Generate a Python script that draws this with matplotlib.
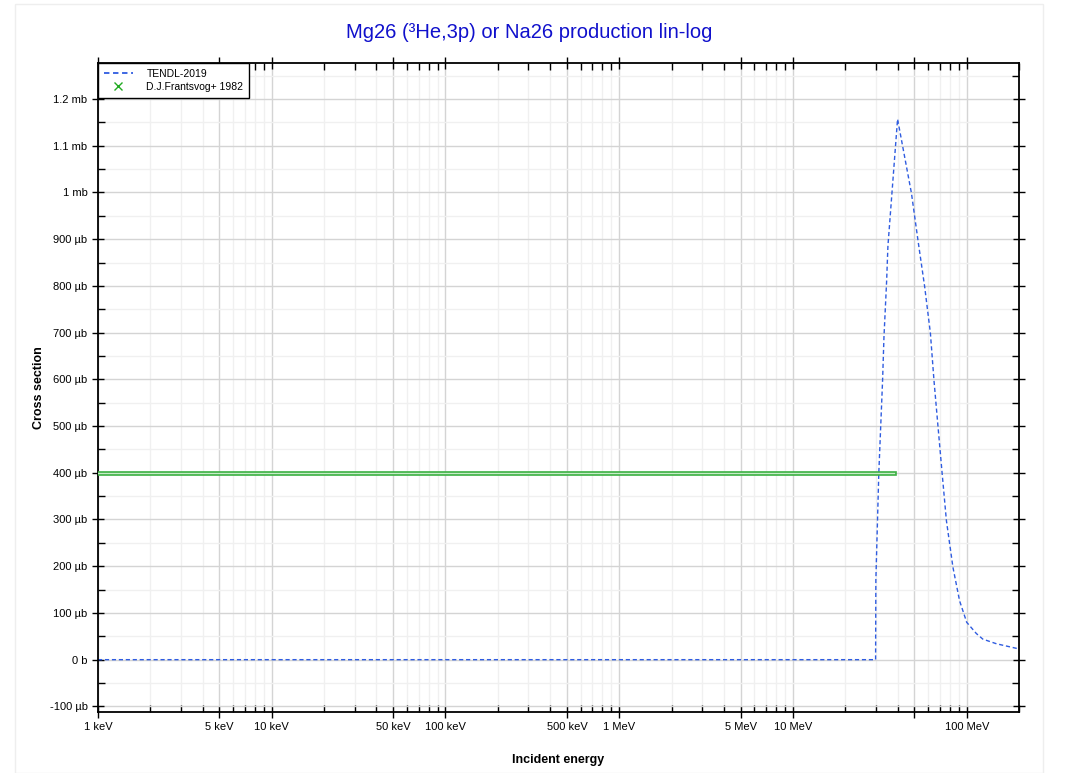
import matplotlib
matplotlib.use("Agg")
import matplotlib.pyplot as plt
from matplotlib.patches import Rectangle
import numpy as np

plt.rcParams['font.family'] = ['Liberation Sans', 'DejaVu Sans']

# TENDL-2019 evaluation (energy in MeV, cross section in µb)
tendl_energy = [1e-3, 29.9, 30.0, 31.2, 32.8, 33.4, 34.6, 35.2, 40.0, 48.1, 52.4,
                57.3, 61.8, 64.8, 68.4, 72.2, 76.4, 83.3, 91.0, 100.0, 113.6, 123.8,
                148.4, 200.0]
tendl_xs_ub = [0, 0, 170, 400, 598, 690, 810, 885, 1157, 998, 898,
               798, 699, 598, 498, 399, 298, 198, 126, 80, 56, 44,
               34, 23]

# EXFOR data D.J.Frantsvog+ 1982 (energy range and cross section)
frantsvog_e_lo = [1e-4]
frantsvog_e_hi = [39.0]
frantsvog_xs_ub = [398.0]
frantsvog_dxs_ub = [3.0]

xtick_vals = [1e-3, 5e-3, 1e-2, 5e-2, 1e-1, 5e-1, 1.0, 5.0, 10.0, 50.0, 100.0]
xtick_labels = ['1 keV', '5 keV', '10 keV', '50 keV', '100 keV', '500 keV', '1 MeV',
                '5 MeV', '10 MeV', '', '100 MeV']
ytick_vals_ub = [-100, 0, 100, 200, 300, 400, 500, 600, 700, 800, 900, 1000, 1100, 1200]
ytick_labels = ['-100 µb', '0 b', '100 µb', '200 µb', '300 µb', '400 µb', '500 µb',
                '600 µb', '700 µb', '800 µb', '900 µb', '1 mb', '1.1 mb', '1.2 mb']

fig = plt.figure(figsize=(10.67, 7.73), dpi=100)
fig.patches.append(Rectangle((15/1067, 0), (1043-15)/1067, (773-4)/773,
                             transform=fig.transFigure, fill=False,
                             edgecolor='#eeeeee', linewidth=1.0))
ax = fig.add_axes([98/1067, 1-712/773, (1019-98)/1067, (712-63)/773])

ax.set_xscale('log')

# ticks and grid
ax.set_xticks(xtick_vals)
ax.set_xticklabels(xtick_labels)
minor_x = [m * 10.0**d for d in range(-3, 3) for m in (2, 3, 4, 6, 7, 8, 9)
           if m * 10.0**d <= 200]
ax.set_xticks(minor_x, minor=True)
ax.set_yticks([v * 1e-6 for v in ytick_vals_ub])
ax.set_yticklabels(ytick_labels)
ax.set_yticks([v * 1e-6 for v in np.arange(-50, 1300, 100)], minor=True)
ax.grid(True, which='major', color='#d4d4d4', linewidth=1.0)
ax.grid(True, which='minor', color='#f0f0f0', linewidth=1.0)
ax.set_axisbelow(True)

ax.tick_params(axis='both', which='major', direction='inout', length=8, width=1,
               labelsize=8, top=True, right=True)
ax.tick_params(axis='both', which='minor', direction='in', length=5, width=1,
               top=True, right=True)
ax.tick_params(axis='x', which='major', pad=3)
for s in ax.spines.values():
    s.set_linewidth(1.3)

# data
ax.plot(tendl_energy, [v * 1e-6 for v in tendl_xs_ub], color='#2f5ce0',
        linestyle=(0, (3, 2)), linewidth=1.0, label='TENDL-2019')
for lo, hi, y, dy in zip(frantsvog_e_lo, frantsvog_e_hi, frantsvog_xs_ub, frantsvog_dxs_ub):
    ax.add_patch(Rectangle((lo, (y - dy) * 1e-6), hi - lo, 2 * dy * 1e-6,
                           facecolor='#c8ecc8', edgecolor='#3cb043', linewidth=1.2, zorder=3))
ax.plot([], [], linestyle='none', marker='x', color='#22aa22', markersize=6,
        label='D.J.Frantsvog+ 1982')
ax.set_xlim(1e-3, 200)
ax.set_ylim(-112e-6, 1.277e-3)

leg = ax.legend(loc='upper left', fontsize=7.5, frameon=True, fancybox=False,
                borderaxespad=0.0, handlelength=2.8, borderpad=0.55, labelspacing=0.3,
                handletextpad=1.3)
leg.get_frame().set_edgecolor('black')
leg.get_frame().set_linewidth(1.0)
leg.get_frame().set_alpha(1)
leg.get_lines()[0].set_linewidth(1.3)

ax.set_xlabel('Incident energy', fontsize=9, fontweight='bold', labelpad=16)
ax.set_ylabel('Cross section', fontsize=9, fontweight='bold', labelpad=3)
fig.text(529/1067, 1-33/773, 'Mg26 (³He,3p) or Na26 production lin-log', ha='center',
         va='center', fontsize=14.5, color='#1010cc')

fig.savefig('out.png', dpi=100)
